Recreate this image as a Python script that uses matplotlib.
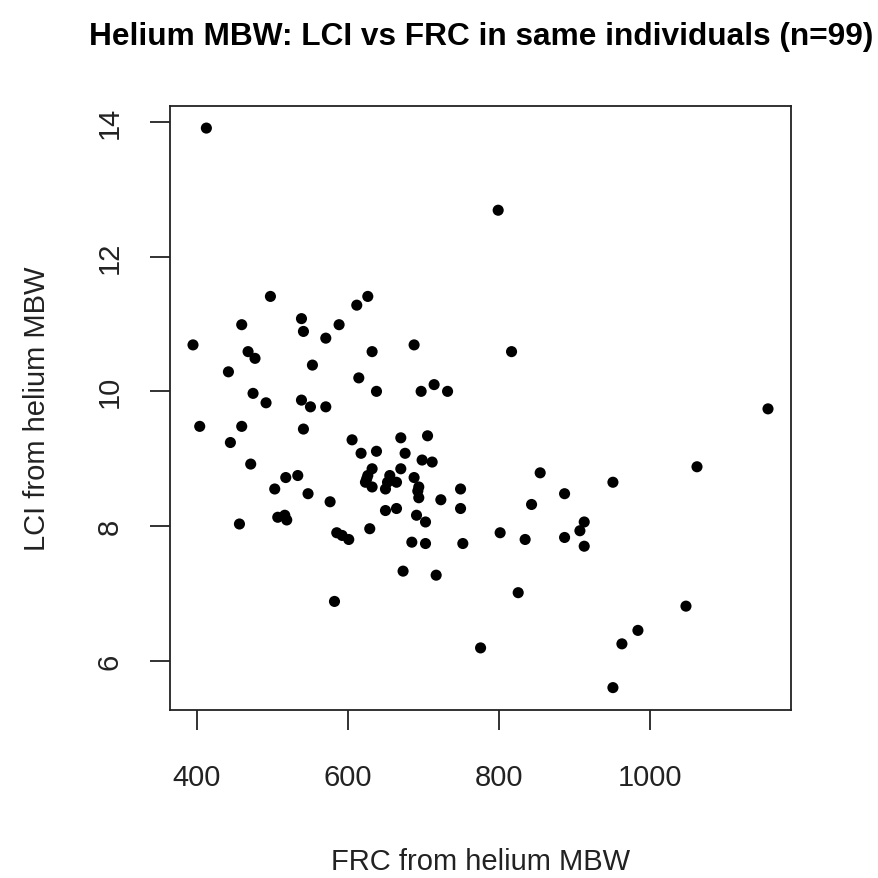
import matplotlib
matplotlib.use("Agg")
import matplotlib.pyplot as plt

plt.rcParams['font.family'] = ['Liberation Sans', 'DejaVu Sans']

frc = [412.8, 497.6, 626.5, 611.9, 459.6, 538.7, 541.3, 588.5, 570.9, 395.1,
       468.0, 477.2, 632.2, 687.8, 553.2, 442.0, 614.6, 638.0, 697.1, 714.3,
       732.1, 474.6, 491.8, 538.7, 550.6, 570.9, 404.0, 459.6, 541.3, 444.6,
       605.7, 617.6, 638.0, 670.2, 705.6, 675.9, 471.5, 698.4, 711.7, 632.2,
       670.2, 517.9, 533.8, 626.5, 623.4, 632.2, 655.6, 652.6, 664.5, 649.9,
       687.8, 694.0, 694.0, 503.3, 547.4, 576.6, 723.2, 749.3, 749.3, 649.9,
       664.5, 691.0, 702.9, 507.3, 516.6, 519.2, 456.6, 629.1, 585.4, 592.5,
       601.3, 684.8, 702.9, 752.3, 673.2, 717.0, 582.4, 799.1, 816.8, 1156.3,
       1062.3, 854.7, 951.0, 887.0, 843.3, 801.7, 834.8, 887.0, 913.0, 907.3,
       913.0, 825.6, 1047.7, 984.1, 962.9, 775.8, 951.0, 692.7, 625.0]

lci = [13.91, 11.41, 11.41, 11.28, 10.99, 11.08, 10.89, 10.99, 10.79, 10.69,
       10.59, 10.49, 10.59, 10.69, 10.39, 10.29, 10.20, 10.00, 10.00, 10.10,
       10.00, 9.97, 9.83, 9.87, 9.77, 9.77, 9.48, 9.48, 9.44, 9.24,
       9.28, 9.08, 9.11, 9.31, 9.34, 9.08, 8.92, 8.98, 8.95, 8.85,
       8.85, 8.72, 8.75, 8.75, 8.65, 8.58, 8.75, 8.65, 8.65, 8.55,
       8.72, 8.58, 8.42, 8.55, 8.48, 8.36, 8.39, 8.55, 8.26, 8.23,
       8.26, 8.16, 8.06, 8.13, 8.16, 8.09, 8.03, 7.96, 7.90, 7.86,
       7.80, 7.76, 7.74, 7.74, 7.33, 7.27, 6.88, 12.69, 10.59, 9.74,
       8.88, 8.79, 8.65, 8.48, 8.32, 7.90, 7.80, 7.83, 8.06, 7.93,
       7.70, 7.01, 6.81, 6.45, 6.25, 6.19, 5.60, 8.52, 8.70]

x_ticks = [400, 600, 800, 1000]
y_ticks = [6, 8, 10, 12, 14]
title = "Helium MBW: LCI vs FRC in same individuals (n=99)"
xlabel = "FRC from helium MBW"
ylabel = "LCI from helium MBW"

fig = plt.figure(figsize=(8.79, 8.79), dpi=100)
ax = fig.add_axes([170/879, 1-711/879, (791-170)/879, (711-106.7)/879])
ax.scatter(frc, lci, s=8.0**2, color='black', edgecolors='none', zorder=3)
ax.margins(0.04)

ax.set_xticks(x_ticks)
ax.set_yticks(y_ticks)
ax.tick_params(axis='both', direction='out', length=14.5, width=1.3,
               color='#222222', labelsize=21, labelcolor='#222222')
ax.tick_params(axis='x', pad=24)
ax.tick_params(axis='y', pad=19)
for lab in ax.get_yticklabels():
    lab.set_rotation(90)
    lab.set_va('center')
for sp in ax.spines.values():
    sp.set_linewidth(1.3)
    sp.set_color('#222222')

ax.set_xlabel(xlabel, fontsize=21, color='#222222', labelpad=40)
ax.set_ylabel(ylabel, fontsize=21, color='#222222', labelpad=32)

fig.text(481.5/879, 1-37/879, title, ha='center', va='center',
         fontsize=22.8, fontweight='bold', color='black')

fig.savefig("out.png", dpi=100, facecolor='white')
